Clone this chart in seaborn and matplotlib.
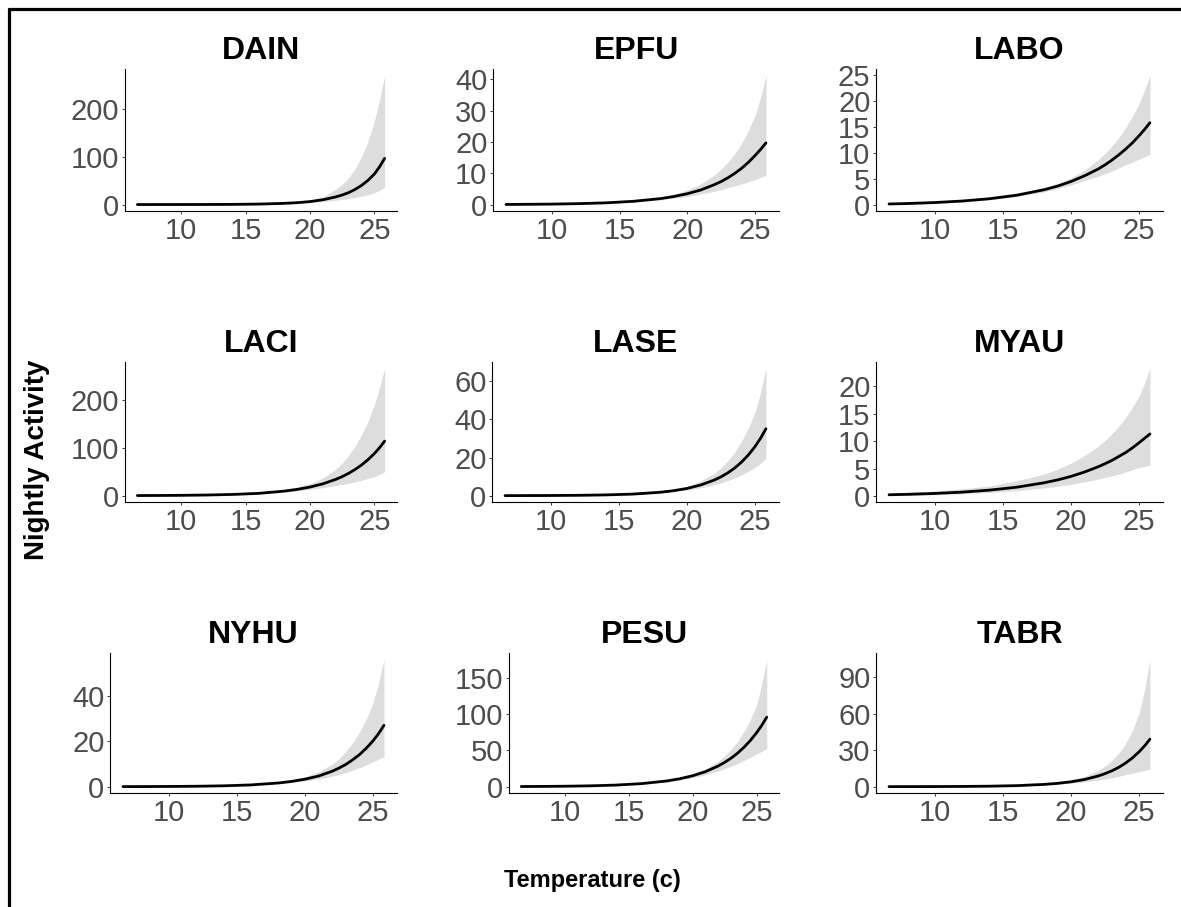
import numpy as np
import pandas as pd
import matplotlib
matplotlib.use("Agg")
import matplotlib.pyplot as plt
from matplotlib.lines import Line2D
import seaborn as sns

# ---- data ----
temperature = [6.6, 8, 10, 12, 14, 16, 18, 19, 20, 21, 22, 22.5, 23, 23.5, 24, 24.5, 25, 25.4, 25.8]

species = ["DAIN", "EPFU", "LABO", "LACI", "LASE", "MYAU", "NYHU", "PESU", "TABR"]

dain_mean = [0.0, 0.02, 0.05, 0.14, 0.36, 0.95, 2.5, 3.9, 6.2, 10, 16, 20, 25, 31.6, 40, 50.6, 64, 79, 97]
dain_upper = [0.03, 0.05, 0.11, 0.25, 0.54, 1.2, 3.3, 5.3, 9.0, 16, 32, 42, 56, 75, 100, 132, 175, 218, 271]
dain_lower = [0.0, 0.01, 0.02, 0.08, 0.24, 0.73, 1.9, 2.9, 4.3, 6.3, 9, 10.6, 12.5, 14.8, 17.4, 20.7, 24.6, 29.9, 36]

epfu_mean = [0.06, 0.1, 0.17, 0.32, 0.58, 1.06, 1.92, 2.6, 3.5, 4.7, 6.4, 7.4, 8.6, 10.0, 11.6, 13.5, 15.7, 17.6, 19.7]
epfu_upper = [0.12, 0.16, 0.25, 0.42, 0.72, 1.3, 2.4, 3.3, 4.7, 6.6, 9.5, 11.4, 13.6, 16.3, 19.5, 23.6, 28.5, 34.3, 41.2]
epfu_lower = [0.03, 0.05, 0.1, 0.2, 0.42, 0.84, 1.55, 2.05, 2.6, 3.4, 4.3, 4.8, 5.4, 6.0, 6.6, 7.3, 8.0, 8.7, 9.4]

labo_mean = [0.26, 0.35, 0.54, 0.83, 1.27, 1.95, 3.0, 3.7, 4.6, 5.7, 7.0, 7.8, 8.7, 9.7, 10.8, 12.0, 13.4, 14.6, 15.9]
labo_upper = [0.45, 0.55, 0.75, 1.05, 1.5, 2.25, 3.4, 4.2, 5.3, 6.8, 8.8, 10.0, 11.4, 13.0, 14.9, 17.1, 19.6, 22.1, 25.0]
labo_lower = [0.15, 0.22, 0.39, 0.66, 1.08, 1.7, 2.6, 3.2, 3.95, 4.8, 5.6, 6.1, 6.6, 7.2, 7.8, 8.3, 8.9, 9.3, 9.8]

laci_mean = [0.25, 0.39, 0.73, 1.37, 2.6, 4.8, 9.5, 13.1, 18, 24.7, 34, 39.8, 46.6, 54.6, 64, 75, 88, 100, 114]
laci_upper = [0.8, 1.05, 1.5, 2.3, 3.7, 6.2, 12.5, 17.8, 25.5, 37, 55, 68, 84, 103, 127, 155, 190, 225, 266]
laci_lower = [0.08, 0.15, 0.35, 0.8, 1.8, 3.7, 7.2, 9.7, 12.8, 16.5, 21, 23.4, 26, 28.8, 32, 35.8, 40, 44.7, 50]

lase_mean = [0.02, 0.04, 0.08, 0.18, 0.39, 0.82, 1.77, 2.6, 3.8, 5.6, 8.2, 9.9, 12.0, 14.5, 17.6, 21.3, 25.8, 30.1, 35.1]
lase_upper = [0.06, 0.09, 0.16, 0.3, 0.55, 1.05, 2.2, 3.3, 5.0, 7.7, 11.8, 14.7, 18.3, 22.8, 28.5, 35.4, 44, 54.2, 66.8]
lase_lower = [0.01, 0.02, 0.04, 0.11, 0.27, 0.64, 1.4, 2.05, 2.9, 4.1, 5.7, 6.7, 7.9, 9.3, 10.9, 12.7, 14.8, 16.9, 19.4]

myau_mean = [0.26, 0.34, 0.5, 0.74, 1.1, 1.63, 2.43, 2.95, 3.6, 4.4, 5.35, 5.9, 6.5, 7.2, 7.9, 8.75, 9.7, 10.5, 11.3]
myau_upper = [0.55, 0.7, 0.95, 1.35, 1.85, 2.8, 4.0, 4.9, 6.0, 7.4, 9.1, 10.1, 11.3, 12.7, 14.2, 16.1, 18.2, 20.5, 23.2]
myau_lower = [0.1, 0.15, 0.25, 0.42, 0.67, 1.0, 1.5, 1.8, 2.15, 2.6, 3.1, 3.4, 3.7, 4.0, 4.4, 4.8, 5.2, 5.4, 5.6]

nyhu_mean = [0.03, 0.04, 0.09, 0.18, 0.37, 0.76, 1.6, 2.3, 3.3, 4.7, 6.8, 8.2, 9.8, 11.8, 14.1, 16.9, 20.2, 23.3, 27]
nyhu_upper = [0.07, 0.1, 0.17, 0.3, 0.53, 0.98, 2.0, 2.95, 4.4, 6.6, 10, 12.4, 15.5, 19.3, 24, 29.8, 37, 45.5, 56]
nyhu_lower = [0.01, 0.02, 0.05, 0.11, 0.26, 0.59, 1.28, 1.8, 2.5, 3.35, 4.6, 5.3, 6.2, 7.2, 8.3, 9.6, 11, 12.1, 13.2]

pesu_mean = [0.21, 0.33, 0.62, 1.17, 2.2, 4.2, 7.9, 10.9, 15, 20.6, 28.4, 33.3, 39, 45.8, 53.8, 63.1, 74, 84, 95.5]
pesu_upper = [0.6, 0.8, 1.25, 2.0, 3.2, 5.4, 9.3, 12.6, 17.3, 24.5, 35, 42.3, 51, 61.8, 75, 91.7, 112, 140, 175]
pesu_lower = [0.06, 0.12, 0.3, 0.68, 1.5, 3.2, 6.6, 9.2, 12.4, 16.3, 21.5, 24.5, 28, 31.7, 36, 40.2, 45, 48.4, 52]

tabr_mean = [0.02, 0.04, 0.08, 0.17, 0.38, 0.83, 1.83, 2.7, 4.0, 5.9, 8.8, 10.7, 13, 15.8, 19.3, 23.5, 28.6, 33.4, 39]
tabr_upper = [0.08, 0.12, 0.2, 0.35, 0.6, 1.15, 2.4, 3.6, 5.5, 8.5, 13.5, 17, 21.5, 27.4, 35, 45.8, 60, 79, 104.5]
tabr_lower = [0.01, 0.01, 0.03, 0.08, 0.22, 0.56, 1.35, 1.95, 2.8, 3.9, 5.4, 6.3, 7.3, 8.5, 9.8, 11, 12.3, 13.4, 14.5]

x_ticks = [10, 15, 20, 25]
y_ticks = {
    "DAIN": [0, 100, 200],
    "EPFU": [0, 10, 20, 30, 40],
    "LABO": [0, 5, 10, 15, 20, 25],
    "LACI": [0, 100, 200],
    "LASE": [0, 20, 40, 60],
    "MYAU": [0, 5, 10, 15, 20],
    "NYHU": [0, 20, 40],
    "PESU": [0, 50, 100, 150],
    "TABR": [0, 30, 60, 90],
}

series = {
    "DAIN": (dain_mean, dain_lower, dain_upper),
    "EPFU": (epfu_mean, epfu_lower, epfu_upper),
    "LABO": (labo_mean, labo_lower, labo_upper),
    "LACI": (laci_mean, laci_lower, laci_upper),
    "LASE": (lase_mean, lase_lower, lase_upper),
    "MYAU": (myau_mean, myau_lower, myau_upper),
    "NYHU": (nyhu_mean, nyhu_lower, nyhu_upper),
    "PESU": (pesu_mean, pesu_lower, pesu_upper),
    "TABR": (tabr_mean, tabr_lower, tabr_upper),
}

frames = []
for sp in species:
    m, lo, up = series[sp]
    frames.append(pd.DataFrame({"species": sp, "temp": temperature,
                                "mean": m, "lower": lo, "upper": up}))
df = pd.concat(frames, ignore_index=True)

# ---- style ----
sns.set_theme(style="white")
plt.rcParams["font.family"] = ["Liberation Sans", "DejaVu Sans"]

W, H = 1181, 907
fig = plt.figure(figsize=(W / 100, H / 100), dpi=100)

# panel boxes in pixels: (left, top, right, bottom)
boxes = {
    "DAIN": (125, 69, 397, 211), "EPFU": (493, 69, 779, 211), "LABO": (876, 69, 1163, 211),
    "LACI": (125, 362, 397, 502), "LASE": (492, 362, 779, 502), "MYAU": (876, 362, 1163, 502),
    "NYHU": (110, 653, 397, 793), "PESU": (509, 653, 779, 793), "TABR": (876, 653, 1163, 793),
}

for sp in species:
    l, t, r, b = boxes[sp]
    ax = fig.add_axes([l / W, 1 - b / H, (r - l) / W, (b - t) / H])
    d = df[df["species"] == sp]
    ax.fill_between(d["temp"], d["lower"], d["upper"], color="#DDDDDD", lw=0, zorder=1)
    sns.lineplot(data=d, x="temp", y="mean", ax=ax, color="black", lw=2.0, zorder=2)
    ax.margins(x=0.05, y=0.05)
    ax.set_xticks(x_ticks)
    ax.set_yticks(y_ticks[sp])
    ax.set_xlabel("")
    ax.set_ylabel("")
    ax.set_title(sp, fontsize=23, fontweight="bold", color="black", pad=7)
    for side in ["top", "right"]:
        ax.spines[side].set_visible(False)
    for side in ["left", "bottom"]:
        ax.spines[side].set_color("black")
        ax.spines[side].set_linewidth(0.8)
    ax.tick_params(axis="both", which="major", direction="out", length=2.5, width=0.7,
                   color="#333333", labelcolor="#4D4D4D", labelsize=21, pad=1.5,
                   bottom=True, left=True)
    ax.set_facecolor("white")

fig.text(37 / W, 1 - 460 / H, "Nightly Activity", rotation=90, ha="center", va="center",
         fontsize=20, fontweight="bold", color="black")
fig.text(592 / W, 1 - 880 / H, "Temperature (c)", ha="center", va="center",
         fontsize=17, fontweight="bold", color="black")

# outer border (left and top visible)
fig.add_artist(Line2D([9.5 / W, 9.5 / W], [1 - 8.5 / H, -0.05], transform=fig.transFigure,
                      color="black", lw=2.3))
fig.add_artist(Line2D([8.5 / W, 1.05], [1 - 8.5 / H, 1 - 8.5 / H], transform=fig.transFigure,
                      color="black", lw=2.3))

fig.savefig("out.png", dpi=100, facecolor="white")
